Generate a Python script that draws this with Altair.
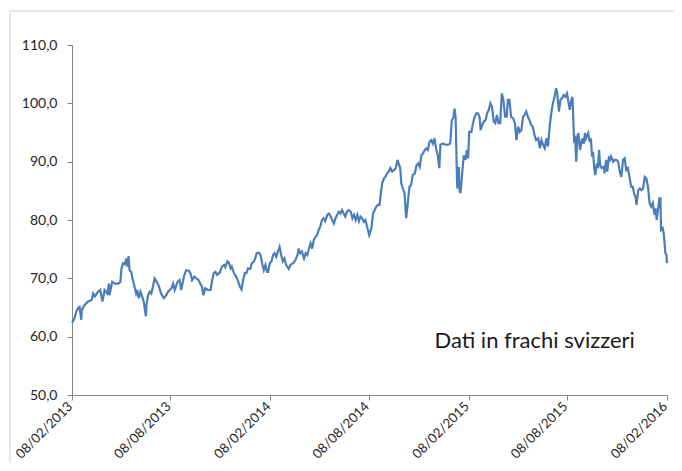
import altair as alt
import pandas as pd

START = "2013-02-08"

# days after 08/02/2013 and closing values (CHF)
seg1_days = [0,4,8,11,14,17,18,23,29,36,39,42,48,52,56,60,65,68,69,74,79,85,89,91,94,97,100,102,104,106,109,112,115,118,120,123,126,129,132,136,137,140,143,146,149,152,156,160,164,169,172,177,183,186]
seg1_vals = [62.4,63.0,64.3,64.9,65.1,62.9,64.6,65.4,66.0,66.3,67.4,66.9,67.7,68.0,66.0,68.0,67.4,69.1,67.1,69.4,69.1,69.1,69.4,71.7,72.6,72.4,73.4,72.0,73.8,71.4,71.1,69.7,68.6,67.4,68.0,66.6,67.7,66.9,66.0,63.5,65.4,67.1,67.7,67.4,68.6,70.0,69.4,68.6,67.4,66.6,66.9,67.7,68.3,69.1]

seg2_days = [189,194,198,201,206,210,215,218,221,225,229,233,236,239,242,245,250,255,258,261,264,267,272,276,280,282,286,289,292,294,298,302,305,309,312,315,318,321,324,328,331,335,337,340,344,347,350,353,356,359]
seg2_vals = [68.0,69.4,69.7,68.0,70.3,71.4,71.3,70.9,69.7,70.3,70.0,69.7,69.1,68.6,67.1,68.3,68.0,68.0,69.7,70.9,71.1,70.6,71.0,72.0,72.3,71.9,72.9,72.6,71.7,72.0,70.9,70.3,69.7,68.6,68.1,69.7,70.9,70.9,71.7,71.6,72.6,72.9,73.4,74.3,74.4,74.0,72.6,71.4,72.3,71.1]

seg3_days = [361,364,367,370,373,376,379,382,385,388,391,394,399,402,407,411,415,417,420,423,427,430,433,436,439,442,445,448,451,454,457,460,463,466,470,473,476,479,482,485,488,491,494,497,500,503,506,509,513,516,519,522,525,528,531,534,537,540,543,547]
seg3_vals = [71.1,72.6,72.9,74.0,74.3,73.7,74.6,75.4,74.0,72.9,73.4,72.3,71.6,72.3,72.6,73.1,74.0,75.1,74.3,74.6,73.4,74.3,74.0,75.1,76.0,75.1,76.6,77.1,77.4,78.3,78.9,80.0,80.3,79.8,80.9,81.1,80.6,80.0,79.4,80.3,80.9,81.4,81.1,81.7,81.1,80.6,81.4,81.7,81.4,80.3,80.9,80.0,80.9,79.8,80.6,80.3,79.7,80.0,78.9,77.4]

seg4_days = [551,554,557,560,563,566,569,571,574,577,580,583,586,589,593,596,599,601,604,606,609,612,615,618,621,624,627,631,634,637,640,643,646,649,652,655,658,661,664,667,670,673,676,678,683,687,692,696,699,702,704,706,708,709,712,713,715,718,721,724,727]
seg4_vals = [78.6,81.1,81.7,82.3,82.6,82.6,85.1,86.3,87.1,87.4,88.0,88.3,88.9,88.3,88.6,88.9,90.3,89.7,88.9,86.3,85.4,84.6,80.3,82.9,85.7,86.0,87.7,88.0,89.4,89.7,89.1,91.1,91.4,92.0,92.3,92.0,93.4,93.7,93.1,94.0,92.3,91.1,88.9,92.9,93.1,92.9,92.9,93.1,97.1,97.6,99.1,97.6,89.1,85.4,89.1,85.1,84.6,88.0,91.1,90.3,92.0]

seg5_days = [729,731,735,738,741,744,747,750,752,755,758,761,764,767,770,773,776,779,782,785,788,791,794,797,800,802,805,808,812,815,818,821,824,827,830,833,836,839,842,845,848,851,854,858,861,864,867,870,873,876,879,882,885,888,891,893,896,899,902,905,908,911]
seg5_vals = [90.6,95.1,95.1,96.6,97.7,98.3,98.3,97.7,95.4,96.3,96.9,97.1,98.3,98.9,100.0,99.4,96.9,96.6,98.0,96.6,96.6,101.7,100.6,97.7,97.7,100.6,100.6,97.7,97.4,96.6,93.7,96.0,95.1,95.4,97.7,98.0,98.6,97.7,97.1,96.3,96.0,94.6,93.7,94.0,92.3,93.7,92.9,92.3,94.0,92.6,96.0,98.3,100.0,101.1,102.6,101.7,98.6,100.6,100.9,101.4,101.1,101.7]

seg6_days = [916,919,921,924,926,928,930,932,935,939,942,944,946,950,953,955,957,959,961,963,966,968,970,972,975,979,980,983,985,988,990,992,996,999,1002,1005,1008,1011,1014,1017,1020,1023,1026,1029,1032,1035,1037,1039,1042,1045,1048,1051,1054,1057,1060,1063,1066,1069,1072,1074,1076,1078,1081,1083,1084,1087,1089,1092,1094,1095]
seg6_vals = [98.9,100.6,101.1,93.7,94.0,90.0,94.3,94.9,92.0,94.0,93.1,94.9,94.0,94.9,93.4,94.0,90.9,91.7,88.9,87.7,89.7,88.9,92.0,89.4,88.9,89.1,88.0,90.3,88.3,90.6,90.3,90.9,90.0,90.3,90.3,90.0,88.3,87.4,90.3,90.6,88.6,88.9,87.4,85.7,85.7,84.3,84.0,82.6,85.1,85.4,85.1,85.4,87.4,87.1,85.7,82.9,82.3,82.9,80.9,82.0,80.0,81.4,83.7,83.7,78.3,78.6,77.7,74.3,74.0,72.6]

tick_dates = ["2013-02-08", "2013-08-08", "2014-02-08", "2014-08-08",
              "2015-02-08", "2015-08-08", "2016-02-08"]
y_ticks = [50, 60, 70, 80, 90, 100, 110]
note_text = "Dati in frachi svizzeri"
note_date = "2014-12-07"
note_value = 59.3

days = seg1_days + seg2_days + seg3_days + seg4_days + seg5_days + seg6_days
vals = seg1_vals + seg2_vals + seg3_vals + seg4_vals + seg5_vals + seg6_vals
assert len(days) == len(vals)

df = pd.DataFrame({
    "data": pd.Timestamp(START) + pd.to_timedelta(days, unit="D"),
    "prezzo": vals,
})
note_df = pd.DataFrame({"data": [pd.Timestamp(note_date)], "prezzo": [note_value], "t": [note_text]})


def dt(s):
    y, m, d = (int(p) for p in s.split("-"))
    return alt.DateTime(year=y, month=m, date=d)


FONT = "Lato"
AX = "#868686"

x_enc = alt.X(
    "data:T",
    scale=alt.Scale(domain=[dt(tick_dates[0]), dt(tick_dates[-1])], nice=False),
    axis=alt.Axis(
        values=[dt(s) for s in tick_dates], format="%d/%m/%Y", labelAngle=-45,
        labelAlign="right", labelBaseline="middle", labelOffset=-2,
        title=None, grid=False, tickSize=5, labelPadding=4,
        labelFont=FONT, labelFontSize=13.3, labelColor="#262626",
        domainColor=AX, tickColor=AX, labelOverlap=False, labelFlush=False,
    ),
)
y_enc = alt.Y(
    "prezzo:Q",
    scale=alt.Scale(domain=[50, 110], nice=False, zero=False),
    axis=alt.Axis(
        values=y_ticks, labelExpr="replace(format(datum.value, '.1f'), '.', ',')",
        title=None, grid=False, tickSize=5, labelPadding=10,
        labelFont=FONT, labelFontSize=14, labelColor="#262626",
        domainColor=AX, tickColor=AX,
    ),
)

line = alt.Chart(df).mark_line(color="#4A7EBB", strokeWidth=2.2).encode(x=x_enc, y=y_enc)

note = alt.Chart(note_df).mark_text(
    align="left", baseline="middle", font=FONT, fontSize=22, color="#1a1a1a"
).encode(x="data:T", y="prezzo:Q", text="t:N")

border_top = alt.Chart(note_df).mark_rule(color="#d0d0d0", strokeWidth=1).encode(
    x=alt.value(-62), x2=alt.value(640), y=alt.value(-34))
border_left = alt.Chart(note_df).mark_rule(color="#d0d0d0", strokeWidth=1).encode(
    x=alt.value(-62), y=alt.value(-34), y2=alt.value(440))

chart = alt.layer(border_top, border_left, line, note).properties(
    width=595, height=350,
    autosize=alt.AutoSizeParams(type="none"),
    padding={"left": 64, "top": 37, "right": 7, "bottom": 68},
    background="white",
).configure_view(stroke=None)

chart.save("out.html", embed_options={"renderer": "svg", "actions": False})
